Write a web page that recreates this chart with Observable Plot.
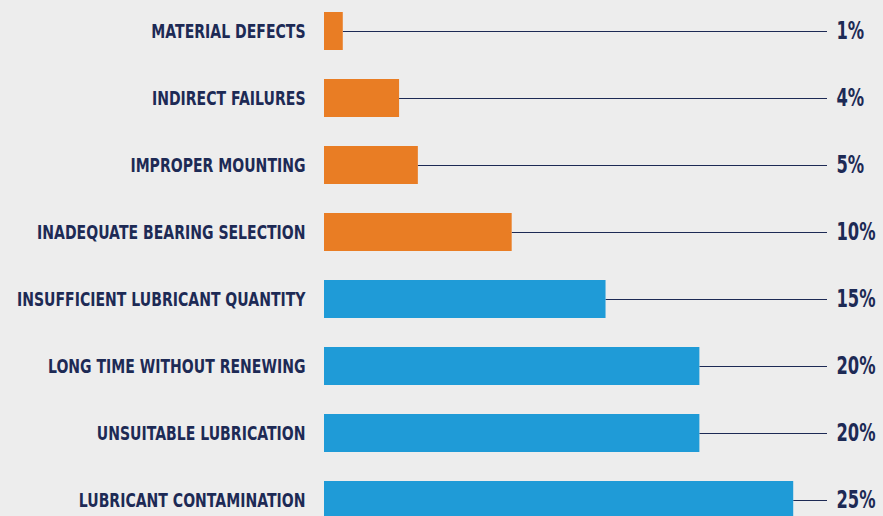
<!DOCTYPE html>
<html>
<head>
<meta charset="utf-8">
<script src="https://cdn.jsdelivr.net/npm/d3@7"></script>
<script src="https://cdn.jsdelivr.net/npm/@observablehq/plot@0.6"></script>
<style>
  html, body { margin: 0; padding: 0; background: #ededed; overflow: hidden; }
  #chart svg { display: block; }
</style>
</head>
<body>
<div id="chart"></div>
<script>
const categories = [
  "MATERIAL DEFECTS",
  "INDIRECT FAILURES",
  "IMPROPER MOUNTING",
  "INADEQUATE BEARING SELECTION",
  "INSUFFICIENT LUBRICANT QUANTITY",
  "LONG TIME WITHOUT RENEWING",
  "UNSUITABLE LUBRICATION",
  "LUBRICANT CONTAMINATION"
];
const values = [1, 4, 5, 10, 15, 20, 20, 25];
const groups = ["other", "other", "other", "other", "lubrication", "lubrication", "lubrication", "lubrication"];
const valueLabels = ["1%", "4%", "5%", "10%", "15%", "20%", "20%", "25%"];
const xMax = 26.8;

const data = categories.map((c, i) => ({cat: c, value: values[i], group: groups[i], label: valueLabels[i]}));

const navy = "#1d2a55";
const font = "'DejaVu Sans', sans-serif";

const plot = Plot.plot({
  width: 883,
  height: 516,
  marginLeft: 324,
  marginRight: 56,
  marginTop: 0,
  marginBottom: 0,
  style: {background: "#ededed", fontFamily: font, overflow: "hidden"},
  x: {domain: [0, xMax], axis: null},
  y: {domain: categories, range: [8, 523], paddingInner: 0.426, paddingOuter: 0, align: 0.5, axis: null},
  color: {domain: ["other", "lubrication"], range: ["#e97d24", "#1f9bd7"]},
  marks: [
    Plot.ruleY(data, {y: "cat", x1: "value", x2: () => xMax, stroke: navy, strokeWidth: 1}),
    Plot.barX(data, {y: "cat", x1: () => 0, x2: "value", fill: "group"}),
    Plot.text(data, {y: "cat", x: () => 0, text: "cat", textAnchor: "end", dx: -19, dy: 0,
      fill: navy, fontSize: 19, fontWeight: "bold", className: "leftlab"}),
    Plot.text(data, {y: "cat", x: () => xMax, text: "label", textAnchor: "start", dx: 9, dy: 0,
      fill: navy, fontSize: 24, fontWeight: "bold", className: "rightlab"})
  ]
});
document.getElementById("chart").appendChild(plot);

// condense the glyphs horizontally around each text's anchor (no condensed font is installed)
function condense(selector, ratio) {
  plot.querySelectorAll(selector + " text").forEach(t => {
    const tr = t.getAttribute("transform");
    if (tr) {
      t.setAttribute("transform", `${tr} scale(${ratio},1)`);
    } else {
      const X = +t.getAttribute("x") || 0;
      t.setAttribute("transform", `translate(${(X * (1 - ratio)).toFixed(2)},0) scale(${ratio},1)`);
    }
  });
}
condense(".leftlab", 0.74);
condense(".rightlab", 0.68);
</script>
</body>
</html>
